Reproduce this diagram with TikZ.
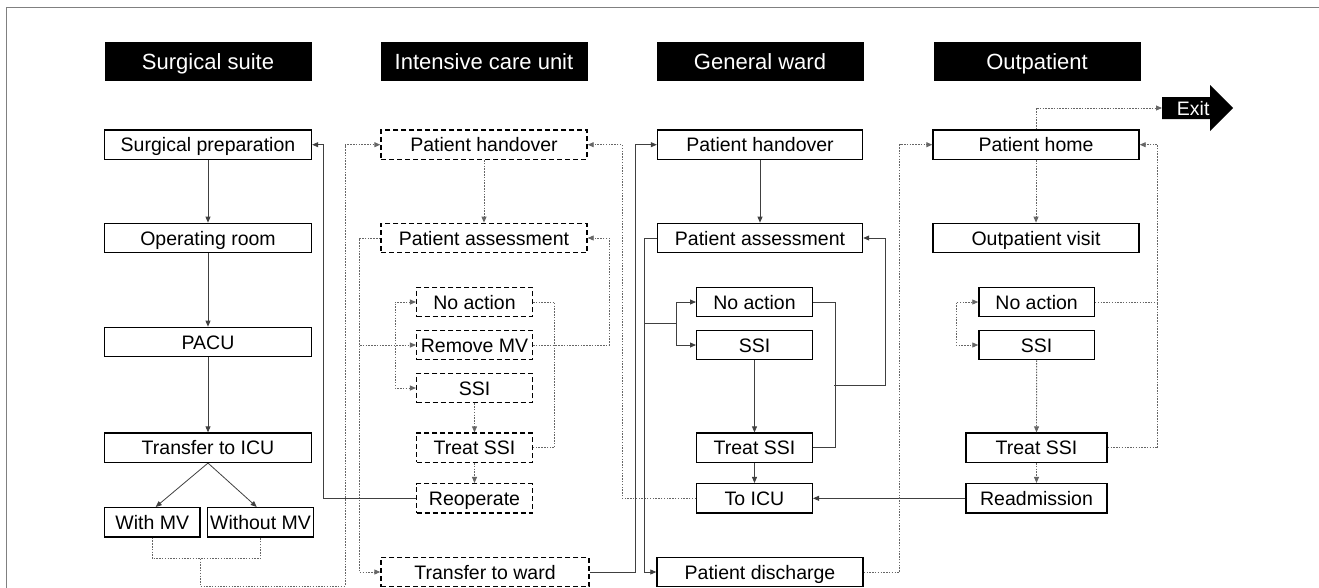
\documentclass[tikz,border=0pt]{standalone}
\usepackage{fontspec}
\setmainfont{Liberation Sans}
\usetikzlibrary{arrows.meta}
\begin{document}
\begin{tikzpicture}[x=1pt,y=-1pt,
  hdr/.style={fill=black,text=white,minimum width=207pt,minimum height=39.3pt,inner sep=0pt,text height=21pt,text depth=5.25pt,font=\fontsize{22}{26}\selectfont},
  sbox/.style={draw=black,line width=1.4pt,fill=white,minimum height=29.3pt,inner sep=0pt,text height=18.5pt,text depth=4.5pt,font=\fontsize{19.5}{23}\selectfont},
  dbox/.style={sbox,dash pattern=on 5pt off 3pt},
  conn/.style={draw=black!75,line width=0.8pt},
  dconn/.style={draw=black!60,line width=0.9pt,dash pattern=on 1.5pt off 1.3pt},
  toarr/.style={-{Triangle[length=6pt,width=5pt]}},
  botharr/.style={{Triangle[length=6pt,width=5pt]}-{Triangle[length=6pt,width=5pt]}}]
\useasboundingbox (0,0) rectangle (1319,587);
\clip (0,0) rectangle (1319,587);
\draw[black!50,line width=1.2pt] (6.3,600) -- (6.3,7.3) -- (1325,7.3);

% headers
\node[hdr] (h1) at (208,61.3) {Surgical suite};
\node[hdr] (h2) at (484,61.3) {Intensive care unit};
\node[hdr] (h3) at (760,61.3) {General ward};
\node[hdr] (h4) at (1037,61.3) {Outpatient};

% surgical suite
\node[sbox,minimum width=207pt] (sp) at (208,144.7) {Surgical preparation};
\node[sbox,minimum width=207pt] (or) at (208,238) {Operating room};
\node[sbox,minimum width=207pt] (pacu) at (208,342) {PACU};
\node[sbox,minimum width=207pt] (tti) at (208,447.7) {Transfer to ICU};
\node[sbox,minimum width=95.6pt] (wmv) at (152.2,522.3) {With MV};
\node[sbox,minimum width=106pt] (womv) at (260.5,522.3) {Without MV};

% ICU
\node[dbox,minimum width=206pt] (iph) at (484,144.7) {Patient handover};
\node[dbox,minimum width=206pt] (ipa) at (484,238) {Patient assessment};
\node[dbox,minimum width=115.7pt] (ina) at (474.5,302) {No action};
\node[dbox,minimum width=115.7pt] (irm) at (474.5,345) {Remove MV};
\node[dbox,minimum width=115.7pt] (issi) at (474.5,388) {SSI};
\node[dbox,minimum width=115.7pt] (its) at (474.5,447.7) {Treat SSI};
\node[dbox,minimum width=115.7pt] (iro) at (474.5,498.3) {Reoperate};
\node[dbox,minimum width=208pt] (itw) at (485,572) {Transfer to ward};

% general ward
\node[sbox,minimum width=205pt] (gph) at (760,144.7) {Patient handover};
\node[sbox,minimum width=205pt] (gpa) at (760,238) {Patient assessment};
\node[sbox,minimum width=115.6pt] (gna) at (754.5,302) {No action};
\node[sbox,minimum width=115.6pt] (gssi) at (754.5,345) {SSI};
\node[sbox,minimum width=115.6pt] (gts) at (754.5,447.7) {Treat SSI};
\node[sbox,minimum width=115.6pt] (gicu) at (754.5,498.3) {To ICU};
\node[sbox,minimum width=206pt] (gpd) at (760,572) {Patient discharge};

% outpatient
\node[sbox,minimum width=206pt] (oph) at (1036,144.7) {Patient home};
\node[sbox,minimum width=206pt] (ov) at (1036,238) {Outpatient visit};
\node[sbox,minimum width=115.3pt] (ona) at (1036.6,302) {No action};
\node[sbox,minimum width=115.3pt] (ossi) at (1036.6,345) {SSI};
\node[sbox,minimum width=141pt] (ots) at (1036.5,447.7) {Treat SSI};
\node[sbox,minimum width=141pt] (ored) at (1036.5,498.3) {Readmission};

% exit
\fill[black] (1162,97) -- (1210,97) -- (1210,85) -- (1233,108) -- (1210,131) -- (1210,119) -- (1162,119) -- cycle;
\node[anchor=west,inner xsep=14.7pt,inner ysep=0pt,text height=18.5pt,text depth=4.5pt,text=white,font=\fontsize{19.5}{23}\selectfont] (exit) at (1162,108) {Exit};

% surgical suite connectors
\draw[conn,toarr] (sp.south) -- (or.north);
\draw[conn,toarr] (or.south) -- (pacu.north);
\draw[conn,toarr] (pacu.south) -- (tti.north);
\draw[conn,toarr] (tti.south) -- ([xshift=3.5pt]wmv.north);
\draw[conn,toarr] (tti.south) -- ([xshift=-3.8pt]womv.north);
\coordinate (bm) at (200,558.7);
\coordinate (bl) at (200,586);
\coordinate (br) at (345,586);
\draw[dconn] (wmv.south) |- (bm) -| (womv.south);
\draw[dconn,toarr] (bm) -- (bl) -- (br) |- (iph.west);

% ICU connectors
\draw[dconn,toarr] (iph.south) -- (ipa.north);
\draw[dconn,toarr] (ipa.west) -- ++(-21,0) |- (itw.west);
\coordinate (ij) at (360,345);
\draw[dconn,toarr] (ij) -- (irm.west);
\draw[dconn,botharr] (ina.west) -- ++(-21,0) |- (issi.west);
\draw[dconn] (ina.east) -- ++(21.6,0) |- (its.east);
\draw[dconn,toarr] (irm.east) -- ++(76,0) |- (ipa.east);
\draw[dconn,toarr] (issi.south) -- (its.north);
\draw[dconn,toarr] (its.south) -- (iro.north);
\draw[conn,toarr] (iro.west) -- ++(-92.7,0) |- (sp.east);
\draw[conn,toarr] (itw.east) -- ++(46,0) |- (gph.west);
\draw[dconn,toarr] (gicu.west) -- ++(-73.7,0) |- (iph.east);

% general ward connectors
\draw[conn,toarr] (gph.south) -- (gpa.north);
\draw[conn,toarr] (gpa.west) -- ++(-12.7,0) |- (gpd.west);
\coordinate (gj) at (644.8,323.3);
\coordinate (gk) at (676.7,323.3);
\draw[conn] (gj) -- (gk);
\draw[conn,botharr] (gna.west) -- ++(-20,0) |- (gssi.west);
\draw[conn] (gna.east) -- ++(22,0) |- (gts.east);
\coordinate (gm) at (834.3,385.7);
\draw[conn,toarr] (gm) -- ++(50.7,0) |- (gpa.east);
\draw[conn,toarr] (gssi.south) -- (gts.north);
\draw[conn,toarr] (gts.south) -- (gicu.north);
\draw[conn,toarr] (ored.west) -- (gicu.east);
\draw[dconn,toarr] (gpd.east) -- ++(36,0) |- (oph.west);

% outpatient connectors
\draw[dconn,toarr] (oph.south) -- (ov.north);
\draw[dconn,toarr] (oph.north) |- (exit.west);
\draw[dconn,botharr] (ona.west) -- ++(-22,0) |- (ossi.west);
\coordinate (oc) at (1157.9,302);
\draw[dconn,toarr] (ona.east) -- (oc) |- (oph.east);
\draw[dconn] (ots.east) -| (oc);
\draw[dconn,toarr] (ossi.south) -- (ots.north);
\draw[dconn,toarr] (ots.south) -- (ored.north);
\end{tikzpicture}
\end{document}
